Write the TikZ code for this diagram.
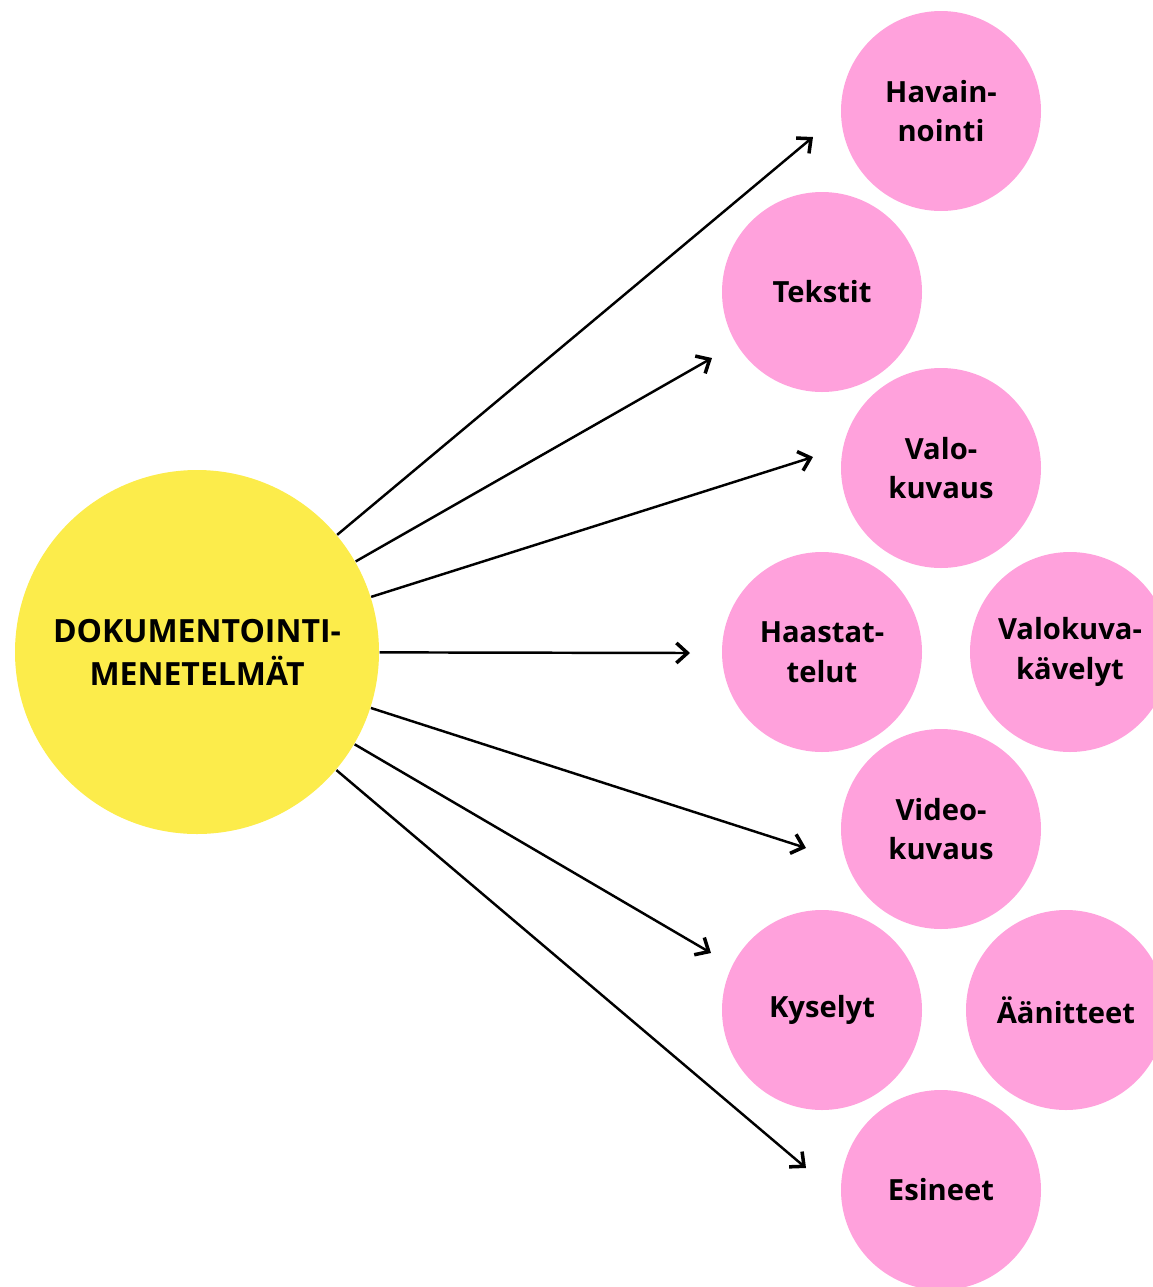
\documentclass[tikz,border=0pt]{standalone}
\usepackage{fontspec}
\setmainfont{Open Sans}
\usepackage{xcolor}
\usetikzlibrary{arrows.meta}
\definecolor{sunyellow}{HTML}{FCEC4B}
\definecolor{softpink}{HTML}{FFA1DC}

\begin{document}
\begin{tikzpicture}[
    x=1cm, y=1cm,
    hub/.style={circle, fill=sunyellow, minimum size=3.64cm, inner sep=0pt, align=center,
        font=\fontsize{9.1pt}{12.2pt}\selectfont\bfseries},
    method/.style={circle, fill=softpink, minimum size=2cm, inner sep=0pt, align=center,
        font=\fontsize{8.3pt}{11.3pt}\selectfont\bfseries},
    arrow/.style={line width=0.7pt, -{Straight Barb[length=1.1mm, width=2mm, line width=1pt]}}
]
\useasboundingbox (0,0) rectangle (11.53,-12.87);
\clip (0,0) rectangle (11.53,-12.87);

% Nodes
\node[hub] (main) at (1.97,-6.52) {DOKUMENTOINTI-\\MENETELMÄT};

\node[method] (havainnointi) at (9.41,-1.11) {Havain-\\nointi};
\node[method] (tekstit) at (8.22,-2.92) {Tekstit};
\node[method] (valokuvaus) at (9.41,-4.68) {Valo-\\kuvaus};
\node[method] (haastattelut) at (8.22,-6.52) {Haastat-\\telut};
\node[method] (kavelyt) at (10.70,-6.52) {Valokuva-\\kävelyt};
\node[method] (videokuvaus) at (9.41,-8.29) {Video-\\kuvaus};
\node[method] (kyselyt) at (8.22,-10.10) {Kyselyt};
\node[method] (aanitteet) at (10.66,-10.10) {Äänitteet};
\node[method] (esineet) at (9.41,-11.90) {Esineet};

% Arrow tips
\coordinate (tip1) at (8.13,-1.37);
\coordinate (tip2) at (7.12,-3.58);
\coordinate (tip3) at (8.13,-4.57);
\coordinate (tip4) at (6.90,-6.53);
\coordinate (tip5) at (8.06,-8.48);
\coordinate (tip6) at (7.11,-9.53);
\coordinate (tip7) at (8.06,-11.68);

\foreach \t in {tip1,tip2,tip3,tip4,tip5,tip6,tip7}
    \draw[arrow] (main) -- (\t);

\end{tikzpicture}
\end{document}
